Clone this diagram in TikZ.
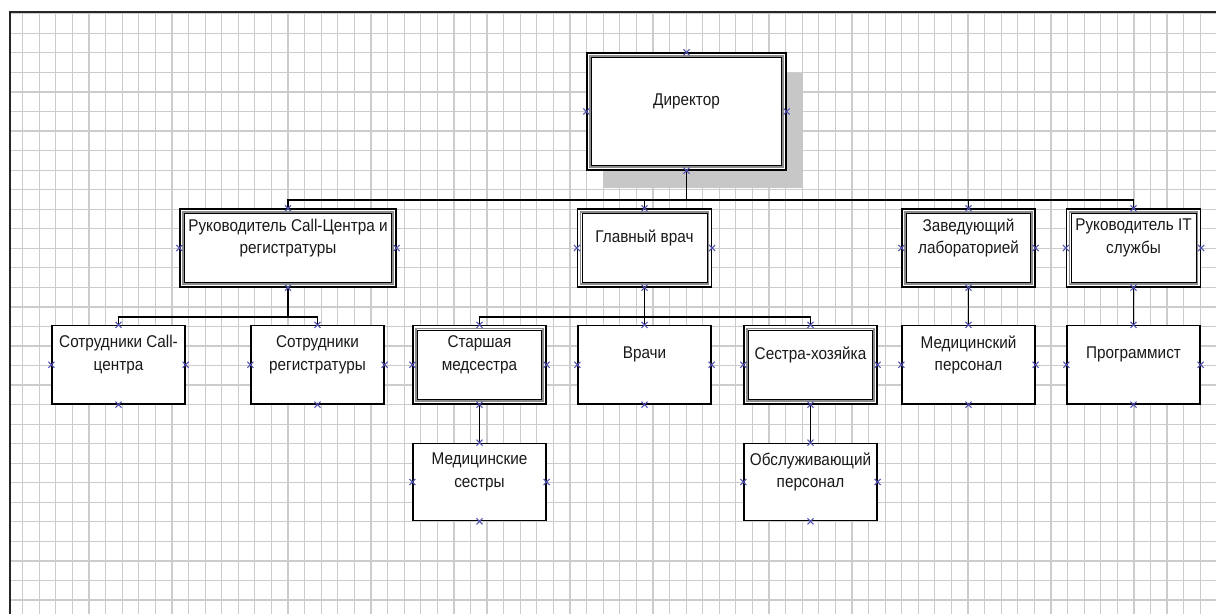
\documentclass[tikz,border=0pt]{standalone}
\usepackage{fontspec}
\setmainfont[FakeStretch=0.9]{Liberation Sans}
\definecolor{cpxc}{RGB}{80,80,175}
\tikzset{
  gridl/.style={black!20, line width=1.2pt},
  box/.style={draw=black, line width=1.2pt, fill=white, inner sep=0pt},
  dbox/.style={box, path picture={
      \draw[black!45, line width=1.5pt] ([shift={(3.2pt,3.2pt)}]path picture bounding box.south west) rectangle ([shift={(-3.2pt,-3.2pt)}]path picture bounding box.north east);
      \draw[black, line width=0.6pt] ([shift={(4.4pt,4.4pt)}]path picture bounding box.south west) rectangle ([shift={(-4.4pt,-4.4pt)}]path picture bounding box.north east);}},
  txt/.style={align=center, inner sep=0pt, text=black!90, font=\fontsize{17}{22.5}\selectfont},
  conn/.style={line width=1.3pt, black},
  cpx/.style={cpxc, line width=1.1pt}
}
\begin{document}
\begin{tikzpicture}[x=1pt, y=-1pt]
\useasboundingbox (0,0) rectangle (1216,614);
\fill[white] (0,0) rectangle (1216,614);
% grid
\begin{scope}
\clip (10,12) rectangle (1216,614);
\foreach \i in {0,...,72} {\draw[gridl] ({22.7+16.585*\i},12) -- ({22.7+16.585*\i},614);}
\foreach \j in {0,...,30} {\draw[gridl] (10,{13.8+19.54*\j}) -- (1216,{13.8+19.54*\j});}
\end{scope}
\draw[line width=1.5pt, black!85] (10,614) -- (10,12) -- (1216,12);
% shadow
\fill[black!22] (603,73) rectangle (803,188);
% level 1
\node[dbox, minimum width=199pt, minimum height=117pt] (dir) at (686.5,111.5) {};
% level 2
\node[dbox, minimum width=216pt, minimum height=78pt] (rc) at (288,248) {};
\node[dbox, minimum width=134pt, minimum height=78pt] (gv) at (644.5,248) {};
\node[dbox, minimum width=133pt, minimum height=78pt] (zl) at (968.5,248) {};
\node[dbox, minimum width=134pt, minimum height=78pt] (it) at (1133.5,248) {};
% level 3
\node[box, minimum width=133pt, minimum height=78.5pt] (scc) at (118.5,364.75) {};
\node[box, minimum width=133pt, minimum height=78.5pt] (sr) at (317.5,364.75) {};
\node[dbox, minimum width=133pt, minimum height=78.5pt] (sm) at (479.5,364.75) {};
\node[box, minimum width=133pt, minimum height=78.5pt] (vr) at (644.5,364.75) {};
\node[dbox, minimum width=133pt, minimum height=78.5pt] (sh) at (810.5,364.75) {};
\node[box, minimum width=133pt, minimum height=78.5pt] (mp) at (968.5,364.75) {};
\node[box, minimum width=133pt, minimum height=78.5pt] (pr) at (1133.5,364.75) {};
% level 4
\node[box, minimum width=133pt, minimum height=77.5pt] (ms) at (479.5,482) {};
\node[box, minimum width=133pt, minimum height=77.5pt] (op) at (810.5,482) {};
% texts
\node[txt] (dirT) at ([yshift=10pt]dir.center) {Директор};
\node[txt] (rcT) at ([yshift=10pt]rc.center) {Руководитель Call-Центра и\\регистратуры};
\node[txt] (gvT) at ([yshift=10pt]gv.center) {Главный врач};
\node[txt] (zlT) at ([yshift=10pt]zl.center) {Заведующий\\лабораторией};
\node[txt] (itT) at ([yshift=10pt]it.center) {Руководитель IT\\службы};
\node[txt] (sccT) at ([yshift=10pt]scc.center) {Сотрудники Call-\\центра};
\node[txt] (srT) at ([yshift=10pt]sr.center) {Сотрудники\\регистратуры};
\node[txt] (smT) at ([yshift=10pt]sm.center) {Старшая\\медсестра};
\node[txt] (vrT) at ([yshift=10pt]vr.center) {Врачи};
\node[txt] (shT) at ([yshift=10pt]sh.center) {Сестра-хозяйка};
\node[txt] (mpT) at ([yshift=10pt]mp.center) {Медицинский\\персонал};
\node[txt] (prT) at ([yshift=10pt]pr.center) {Программист};
\node[txt] (msT) at ([yshift=10pt]ms.center) {Медицинские\\сестры};
\node[txt] (opT) at ([yshift=10pt]op.center) {Обслуживающий\\персонал};
% connectors
\coordinate (busA) at (0,200);
\coordinate (busB) at (0,317);
\foreach \c in {rc,gv,zl,it} {\draw[conn] (dir.south) |- (\c.north |- busA) -- (\c.north);}
\foreach \c in {scc,sr} {\draw[conn] (rc.south) |- (\c.north |- busB) -- (\c.north);}
\foreach \c in {sm,vr,sh} {\draw[conn] (gv.south) |- (\c.north |- busB) -- (\c.north);}
\draw[conn] (zl.south) -- (mp.north);
\draw[conn] (it.south) -- (pr.north);
\draw[conn] (sm.south) -- (ms.north);
\draw[conn] (sh.south) -- (op.north);
% connection points
\foreach \n in {dir,rc,gv,zl,it,scc,sr,sm,vr,sh,mp,pr,ms,op} {
  \foreach \a in {north,south,east,west} {
    \draw[cpx] ([shift={(-3pt,-3pt)}]\n.\a) -- ([shift={(3pt,3pt)}]\n.\a)
               ([shift={(-3pt,3pt)}]\n.\a) -- ([shift={(3pt,-3pt)}]\n.\a);
  }
}
\end{tikzpicture}
\end{document}
